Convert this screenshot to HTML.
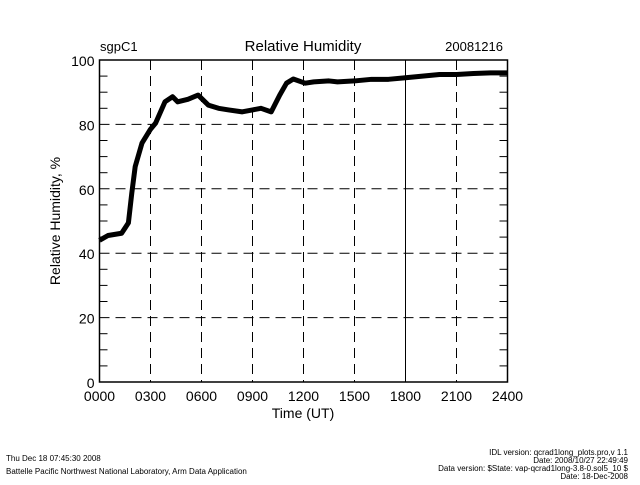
<!DOCTYPE html>
<html><head><meta charset="utf-8"><style>
body{margin:0;background:#fff;}
svg text{font-family:"Liberation Sans",sans-serif;fill:#000;}
</style></head><body>
<svg id="chart" width="640" height="480" viewBox="0 0 640 480" xmlns="http://www.w3.org/2000/svg">
<rect width="640" height="480" fill="#fff"/>
<g id="grid"></g>
<g id="axes"></g>
<g id="series"></g>
<text x="100" y="51" font-size="13">sgpC1</text>
<text x="303" y="51" font-size="15" text-anchor="middle">Relative Humidity</text>
<text x="503" y="51" font-size="13" text-anchor="end">20081216</text>
<text x="303" y="418" font-size="14" text-anchor="middle">Time (UT)</text>
<text transform="translate(60,221) rotate(-90)" font-size="14" text-anchor="middle">Relative Humidity, %</text>
<text x="6" y="461" font-size="8">Thu Dec 18 07:45:30 2008</text>
<text x="6" y="474" font-size="8">Battelle Pacific Northwest National Laboratory, Arm Data Application</text>
<text x="628" y="455" font-size="8" text-anchor="end">IDL version: qcrad1long_plots.pro,v 1.1</text>
<text x="628" y="463" font-size="8" text-anchor="end">Date: 2008/10/27 22:49:49</text>
<text x="628" y="471" font-size="8" text-anchor="end">Data version: $State: vap-qcrad1long-3.8-0.sol5_10 $</text>
<text x="628" y="479" font-size="8" text-anchor="end">Date: 18-Dec-2008</text>
</svg>
<script>
const hours=[0,0.5,1.3,1.7,1.9,2.1,2.5,3.0,3.3,3.85,4.3,4.6,5.2,5.8,6.4,7.0,7.6,8.4,9.0,9.5,10.1,10.6,11.0,11.4,12.1,12.6,13.5,14,15,16,17,18,19,20,21,22,23,24];
const rh=[44,45.5,46.2,49.4,58.7,66.9,74.2,78.5,80.4,87,88.6,87,87.8,89.1,86,85,84.5,83.9,84.5,85,83.9,89.1,92.8,94.1,92.8,93.2,93.5,93.2,93.5,94,94,94.5,95,95.5,95.5,95.8,96,96];
const xTicks=[0,3,6,9,12,15,18,21,24];
const xTickLabels=["0000","0300","0600","0900","1200","1500","1800","2100","2400"];
const yTicks=[0,20,40,60,80,100];
const L=99.5,R=507.5,T=60,B=382;
const xs=h=>L+(R-L)*h/24, ys=v=>B-(B-T)*v/100;
const NS="http://www.w3.org/2000/svg";
function mk(tag,attrs,parent){const e=document.createElementNS(NS,tag);for(const k in attrs)e.setAttribute(k,attrs[k]);document.getElementById(parent).appendChild(e);return e;}
xTicks.forEach((h,i)=>{
 if(i>0&&i<xTicks.length-1){const g=mk('line',{x1:xs(h),x2:xs(h),y1:T,y2:B,stroke:'#000','stroke-width':1,'stroke-dasharray':h===18?'none':'10,6'},'grid');
 
 }
 const t=mk('text',{x:xs(h),y:B+19,'font-size':14,'text-anchor':'middle'},'axes');t.textContent=xTickLabels[i];
 
 
});
yTicks.forEach(v=>{
 if(v>0&&v<100){const g=mk('line',{x1:L,x2:R,y1:ys(v),y2:ys(v),stroke:'#000','stroke-width':1,'stroke-dasharray':'10,6'},'grid');
 
 }
 const t=mk('text',{x:L-5,y:ys(v)+6,'font-size':14,'text-anchor':'end'},'axes');t.textContent=v;
 
 
});
for(let v=0;v<=100;v+=5){if(v%20===0)continue;
 const a=mk('line',{x1:L,x2:L+8,y1:ys(v),y2:ys(v),stroke:'#000'},'axes');
 
 
 const b=mk('line',{x1:R,x2:R-8,y1:ys(v),y2:ys(v),stroke:'#000'},'axes');
 
 }
const fr=mk('rect',{x:L,y:T,width:R-L,height:B-T,fill:'none',stroke:'#000','stroke-width':1.5},'axes');


const p=mk('polyline',{points:hours.map((h,i)=>xs(h)+','+ys(rh[i])).join(' '),fill:'none',stroke:'#000','stroke-width':5,'stroke-linejoin':'round'},'series');


</script>
</body></html>
